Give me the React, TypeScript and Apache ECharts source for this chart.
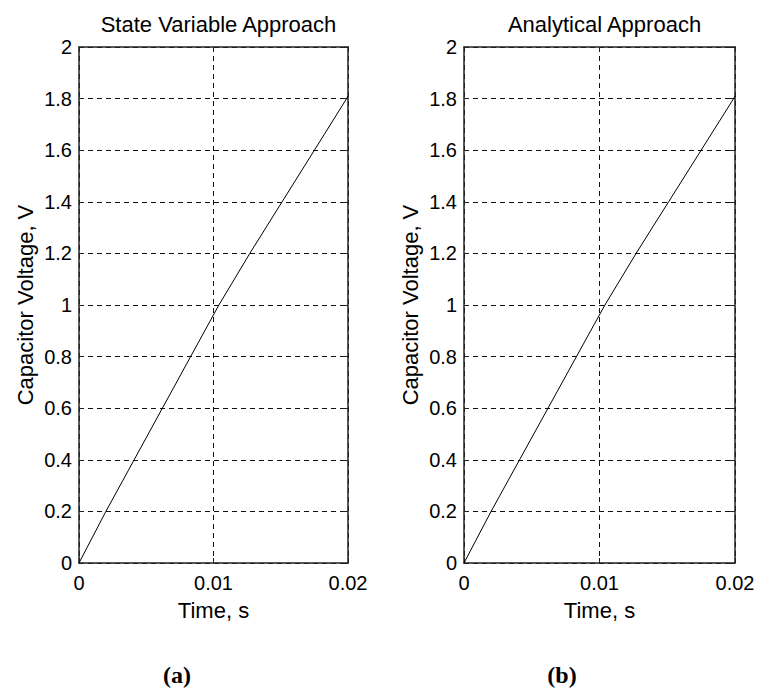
import React, { useEffect, useRef } from "react";
import * as echarts from "echarts";

const titles = ["State Variable Approach", "Analytical Approach"];
const panelLabels = ["(a)", "(b)"];
const xLabel = "Time, s";
const yLabel = "Capacitor Voltage, V";
const xTicks = [0, 0.01, 0.02];
const yMin = 0;
const yMax = 2;
const yStep = 0.2;

// State variable approach
const timeA = [0, 0.002, 0.0041, 0.0062, 0.0083, 0.0104, 0.0127, 0.0151, 0.0175, 0.0199, 0.02];
const voltA = [0, 0.2, 0.4, 0.6, 0.8, 1.0, 1.2, 1.4, 1.6, 1.8, 1.81];
// Analytical approach
const timeB = [0, 0.002, 0.0041, 0.0062, 0.0083, 0.0104, 0.0127, 0.0151, 0.0175, 0.0199, 0.02];
const voltB = [0, 0.2, 0.4, 0.6, 0.8, 1.0, 1.2, 1.4, 1.6, 1.8, 1.81];

const FONT = "'Liberation Sans', Arial, sans-serif";

export default function App() {
  const ref = useRef<HTMLDivElement>(null);
  useEffect(() => {
    if (!ref.current) return;
    const chart = echarts.init(ref.current, null, { renderer: "svg" });
    const grids = [
      { left: 79, top: 47, width: 269, height: 516 },
      { left: 464, top: 47, width: 271, height: 516 },
    ];
    const xAxes: any[] = [];
    const yAxes: any[] = [];
    grids.forEach((_, i) => {
      xAxes.push({
        type: "value",
        gridIndex: i,
        min: xTicks[0],
        max: xTicks[xTicks.length - 1],
        interval: xTicks[1] - xTicks[0],
        position: "bottom",
        name: xLabel,
        nameLocation: "middle",
        nameGap: 36,
        nameTextStyle: { fontFamily: FONT, fontSize: 22, color: "#000" },
        axisLine: { show: true, onZero: false, lineStyle: { color: "#222", width: 1.5 } },
        axisTick: { show: true, inside: true, length: 5, lineStyle: { color: "#222" } },
        axisLabel: { fontFamily: FONT, fontSize: 20, color: "#000", margin: 10 },
        splitLine: { show: true, lineStyle: { type: [5, 4], color: "#111", width: 1 } },
      });
      xAxes.push({
        type: "value",
        gridIndex: i,
        min: xTicks[0],
        max: xTicks[xTicks.length - 1],
        interval: xTicks[1] - xTicks[0],
        position: "top",
        axisLine: { show: true, onZero: false, lineStyle: { color: "#222", width: 1.5 } },
        axisTick: { show: true, inside: true, length: 5, lineStyle: { color: "#222" } },
        axisLabel: { show: false },
        splitLine: { show: false },
      });
      yAxes.push({
        type: "value",
        gridIndex: i,
        min: yMin,
        max: yMax,
        interval: yStep,
        position: "left",
        name: yLabel,
        nameLocation: "middle",
        nameRotate: 90,
        nameGap: 43,
        nameTextStyle: { fontFamily: FONT, fontSize: 22, color: "#000" },
        axisLine: { show: true, onZero: false, lineStyle: { color: "#222", width: 1.5 } },
        axisTick: { show: true, inside: true, length: 5, lineStyle: { color: "#222" } },
        axisLabel: { fontFamily: FONT, fontSize: 20, color: "#000", margin: 7 },
        splitLine: { show: true, lineStyle: { type: [5, 4], color: "#111", width: 1 } },
      });
      yAxes.push({
        type: "value",
        gridIndex: i,
        min: yMin,
        max: yMax,
        interval: yStep,
        position: "right",
        axisLine: { show: true, onZero: false, lineStyle: { color: "#222", width: 1.5 } },
        axisTick: { show: true, inside: true, length: 5, lineStyle: { color: "#222" } },
        axisLabel: { show: false },
        splitLine: { show: false },
      });
    });

    const mk = (t: number[], v: number[]) => t.map((x, k) => [x, v[k]]);

    chart.setOption({
      animation: false,
      backgroundColor: "#fff",
      title: grids.map((g, i) => ({
        text: titles[i],
        left: g.left + g.width / 2,
        top: 8,
        textAlign: "center",
        textStyle: { fontFamily: FONT, fontSize: 22, fontWeight: "normal", color: "#000" },
      })),
      grid: grids,
      xAxis: xAxes,
      yAxis: yAxes,
      series: [
        {
          type: "line",
          xAxisIndex: 0,
          yAxisIndex: 0,
          data: mk(timeA, voltA),
          showSymbol: false,
          lineStyle: { color: "#000", width: 1 },
        },
        {
          type: "line",
          xAxisIndex: 2,
          yAxisIndex: 2,
          data: mk(timeB, voltB),
          showSymbol: false,
          lineStyle: { color: "#000", width: 1 },
        },
      ],
      graphic: [
        {
          type: "text",
          x: 177,
          y: 675,
          style: {
            text: panelLabels[0],
            font: "bold 24px 'Liberation Serif', 'Times New Roman', serif",
            fill: "#000",
            textAlign: "center",
            textVerticalAlign: "middle",
          },
        },
        {
          type: "text",
          x: 562,
          y: 675,
          style: {
            text: panelLabels[1],
            font: "bold 24px 'Liberation Serif', 'Times New Roman', serif",
            fill: "#000",
            textAlign: "center",
            textVerticalAlign: "middle",
          },
        },
      ],
    });
    return () => chart.dispose();
  }, []);
  return (
    <div
      ref={ref}
      style={{ position: "fixed", left: 0, top: 0, width: 758, height: 692, background: "#fff" }}
    />
  );
}
